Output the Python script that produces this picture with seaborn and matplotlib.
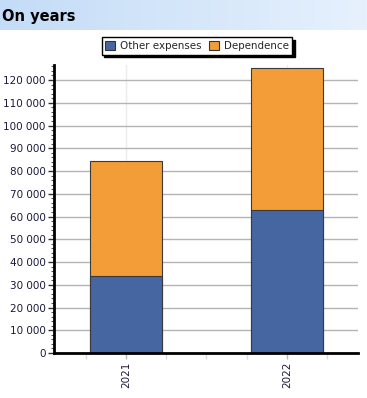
import numpy as np
import pandas as pd
import matplotlib
matplotlib.use("Agg")
import matplotlib.pyplot as plt
from matplotlib.patches import Patch
from matplotlib.ticker import MultipleLocator, FuncFormatter
from matplotlib.colors import LinearSegmentedColormap
import seaborn as sns

years = ["2021", "2022"]
other_expenses = [33800, 62800]
dependence = [50600, 62700]
series_names = ["Other expenses", "Dependence"]
colors = ["#4566A1", "#F29D38"]

sns.set_style("white")
plt.rcParams["font.family"] = ["DejaVu Sans"]

df = pd.DataFrame({"year": years, "other": other_expenses, "dep": dependence})
df["total"] = df["other"] + df["dep"]

fig = plt.figure(figsize=(3.67, 3.98), dpi=100)

# title band
band = fig.add_axes([0, 1 - 30 / 398, 1, 30 / 398])
grad = np.linspace(0, 1, 256).reshape(1, -1)
cm = LinearSegmentedColormap.from_list("band", ["#c4dcf7", "#e6f1fd"])
band.imshow(grad, aspect="auto", cmap=cm, extent=[0, 1, 0, 1])
band.set_axis_off()
fig.text(0.006, 1 - 16 / 398, "On years", fontsize=10.5, fontweight="bold",
         va="center", ha="left", color="black")

ax = fig.add_axes([54 / 367, 45 / 398, 304 / 367, 288 / 398])
sns.barplot(data=df, x="year", y="total", color=colors[1], width=0.447,
            edgecolor="#3a3a3a", linewidth=0.8, ax=ax, zorder=3, saturation=1)
sns.barplot(data=df, x="year", y="other", color=colors[0], width=0.447,
            edgecolor="#3a3a3a", linewidth=0.8, ax=ax, zorder=4, saturation=1)

ax.set_xlim(-0.447, 1.441)
ax.set_ylim(0, 126600)
ax.set_xlabel("")
ax.set_ylabel("")

ax.yaxis.set_major_locator(MultipleLocator(10000))
ax.yaxis.set_minor_locator(MultipleLocator(2000))
ax.yaxis.set_major_formatter(FuncFormatter(lambda v, p: f"{int(v):,}".replace(",", " ")))
ax.xaxis.set_minor_locator(MultipleLocator(0.25))

ax.grid(axis="y", which="major", color="#b4b4b4", linewidth=1, zorder=0)
ax.grid(axis="x", which="major", color="#ebebeb", linewidth=1, zorder=0)
ax.set_axisbelow(True)

for s in ["top", "right"]:
    ax.spines[s].set_visible(False)
for s in ["left", "bottom"]:
    ax.spines[s].set_color("black")
    ax.spines[s].set_linewidth(2)
    ax.spines[s].set_zorder(6)

ax.tick_params(axis="y", which="major", length=4, width=1, color="#333333",
               labelsize=7.5, labelcolor="#1a1a3a", pad=2, left=True)
ax.tick_params(axis="y", which="minor", length=2.5, width=0.8, color="#555555", left=True)
ax.tick_params(axis="x", which="major", length=4, width=1, color="#bbbbbb",
               labelsize=7.5, labelcolor="#1a1a3a", labelrotation=90, pad=2, bottom=True)
ax.tick_params(axis="x", which="minor", length=4, width=1, color="#dddddd", bottom=True)

handles = [Patch(facecolor=c, edgecolor="#333333", linewidth=0.8) for c in colors]
leg = fig.legend(handles, series_names, loc="center", bbox_to_anchor=(197 / 367, 1 - 46 / 398),
                 ncol=2, frameon=True, fancybox=False, shadow={"color": "black", "alpha": 1},
                 edgecolor="black", fontsize=7.4, handlelength=0.9, handleheight=0.9,
                 handletextpad=0.5, columnspacing=0.8, borderpad=0.35, borderaxespad=0)
leg.get_frame().set_linewidth(1)

fig.savefig("out.png", dpi=100)
